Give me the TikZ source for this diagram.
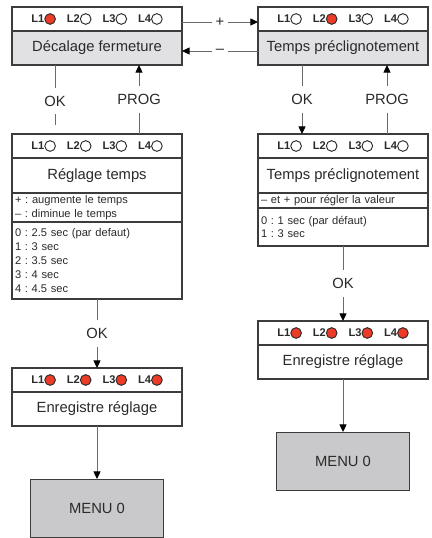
\documentclass[tikz,border=0pt]{standalone}
\usepackage{fontspec}
\setmainfont{Liberation Sans}
\usetikzlibrary{
  arrows.meta,
  positioning
}
\definecolor{boxline}{HTML}{3C3C3C}
\definecolor{wiregray}{HTML}{6A6A6A}
\definecolor{titlegray}{HTML}{E1E1E3}
\definecolor{menugray}{HTML}{C9C9CB}
\definecolor{ledred}{HTML}{EC3B26}
\definecolor{inkgray}{HTML}{2A2A2A}
\tikzset{
  led/.style={draw=inkgray, line width=0.8pt, fill=#1},
  led/.default=white,
  part/.style={
    rectangle, draw=boxline, line width=0.9pt, outer sep=0pt,
    minimum width=5.1cm, text=inkgray
  },
  ledbar/.style={part, fill=white, minimum height=0.72cm, font=\fontsize{9.5}{11}\selectfont},
  titlebar/.style={part, fill=#1, minimum height=1.02cm, font=\fontsize{12.6}{15}\selectfont},
  titlebar/.default=white,
  infobar/.style={
    part, fill=white, text width=4.92cm, inner xsep=0.09cm, inner ysep=1pt,
    align=left, font=\fontsize{9.5}{11.8}\selectfont
  },
  menubox/.style={
    rectangle, draw=boxline, fill=menugray, line width=0.9pt,
    minimum width=3.99cm, minimum height=1.74cm,
    text=inkgray, font=\fontsize{12.6}{15}\selectfont
  },
  wire/.style={draw=wiregray, line width=0.8pt},
  arrow/.style={wire, -{Triangle[length=6.5pt, width=6pt, color=black]}},
  lbl/.style={fill=white, text=inkgray, inner xsep=3.5pt, inner ysep=7pt, font=\fontsize{12.6}{15}\selectfont},
  lblh/.style={lbl, inner ysep=2pt},
}
\newcommand{\ledoff}{\tikz[baseline=-3.4pt]\path[led] (0,0) circle (0.16cm);}
\newcommand{\ledon}{\tikz[baseline=-3.4pt]\path[led=ledred] (0,0) circle (0.16cm);}
\newcommand{\ledrow}[4]{\textbf{L1}#1\hspace{0.33cm}\textbf{L2}#2\hspace{0.33cm}\textbf{L3}#3\hspace{0.33cm}\textbf{L4}#4}

\begin{document}
\frenchspacing
\begin{tikzpicture}
\useasboundingbox (0,0) rectangle (12.93,-16.14);

% Menu entries
\node[ledbar] (a1) at (2.91,-0.57) {\ledrow{\ledon}{\ledoff}{\ledoff}{\ledoff}};
\node[titlebar=titlegray, below=0pt of a1] (a2) {Décalage fermeture};
\node[ledbar] (b1) at (10.29,-0.57) {\ledrow{\ledoff}{\ledon}{\ledoff}{\ledoff}};
\node[titlebar=titlegray, below=0pt of b1] (b2) {Temps préclignotement};

% Setting screens
\node[ledbar, below=2.07cm of a2] (c1) {\ledrow{\ledoff}{\ledoff}{\ledoff}{\ledoff}};
\node[titlebar, minimum height=1.05cm, below=0pt of c1] (c2) {Réglage temps};
\node[infobar, minimum height=0.87cm, below=0pt of c2] (c3) {+ : augmente le temps\\– : diminue le temps};
\node[infobar, minimum height=2.31cm, below=0pt of c3] (c4) {0 : 2.5 sec (par defaut)\\1 : 3 sec\\2 : 3.5 sec\\3 : 4 sec\\4 : 4.5 sec};

\node[ledbar, below=2.07cm of b2] (d1) {\ledrow{\ledoff}{\ledoff}{\ledoff}{\ledoff}};
\node[titlebar, minimum height=1.05cm, below=0pt of d1] (d2) {Temps préclignotement};
\node[infobar, minimum height=0.45cm, below=0pt of d2] (d3) {– et + pour régler la valeur};
\node[infobar, minimum height=1.14cm, below=0pt of d3] (d4) {0 : 1 sec (par défaut)\\1 : 3 sec};

% Save screens
\node[ledbar, below=2.07cm of c4] (e1) {\ledrow{\ledon}{\ledon}{\ledon}{\ledon}};
\node[titlebar, below=0pt of e1] (e2) {Enregistre réglage};
\node[ledbar, below=2.25cm of d4] (f1) {\ledrow{\ledon}{\ledon}{\ledon}{\ledon}};
\node[titlebar, below=0pt of f1] (f2) {Enregistre réglage};

% Back to menu
\node[menubox, below=1.59cm of e2] (m1) {MENU 0};
\node[menubox, below=1.59cm of f2] (m2) {MENU 0};

% Navigation
\draw[arrow] ([yshift=-0.09cm]a1.east) -- node[lblh]{+} ([yshift=-0.09cm]b1.west);
\draw[arrow] ([yshift=-0.09cm]b2.west) -- node[lblh]{–} ([yshift=-0.09cm]a2.east);
\draw[wire] ([xshift=1.29cm]a2.south west) -- node[lbl, pos=0.6]{OK} ([xshift=1.29cm, yshift=0.27cm]c1.north west);
\draw[arrow] ([xshift=3.81cm]c1.north west) -- node[lbl]{PROG} ([xshift=3.81cm]a2.south west);
\draw[arrow] ([xshift=1.32cm]b2.south west) -- node[lbl]{OK} ([xshift=1.32cm]d1.north west);
\draw[arrow] ([xshift=3.87cm]d1.north west) -- node[lbl]{PROG} ([xshift=3.87cm]b2.south west);
\draw[arrow] (c4.south) -- node[lbl]{OK} (e1.north);
\draw[arrow] (d4.south) -- node[lbl]{OK} (f1.north);
\draw[arrow] (e2.south) -- (m1.north);
\draw[arrow] (f2.south) -- (m2.north);

\end{tikzpicture}
\end{document}
